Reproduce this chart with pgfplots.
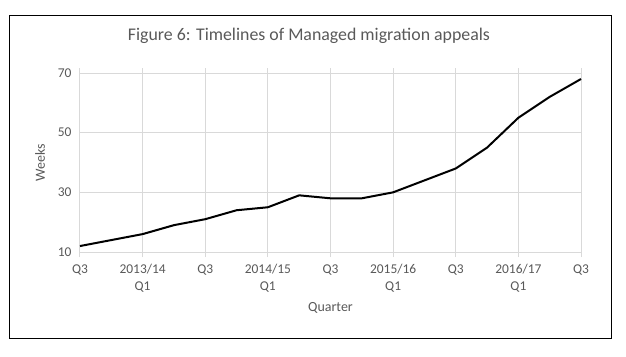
\documentclass[border=0pt]{standalone}
\usepackage{fontspec}
\setmainfont{Carlito}
\usepackage{pgfplots}
\pgfplotsset{compat=1.18}
\definecolor{txt}{HTML}{595959}
\definecolor{grd}{HTML}{D9D9D9}
\begin{document}
\begin{tikzpicture}[x=1bp,y=1bp]
\path[use as bounding box] (-80,-104) rectangle (546,252);
\draw[black, line width=1bp] (-70.4,-86) rectangle (531,237);
\begin{axis}[at={(0,0)}, anchor=south west, scale only axis,
  width=501bp, height=179bp,
  xmin=0, xmax=16, ymin=10, ymax=70,
  xtick={0,2,...,16},
  xticklabels={Q3,2013/14\\Q1,Q3,2014/15\\Q1,Q3,2015/16\\Q1,Q3,2016/17\\Q1,Q3},
  ytick={10,30,50,70},
  grid=major, major grid style={grd, line width=1bp},
  axis line style={draw=none},
  tick align=outside,
  x tick style={grd, line width=1bp}, major tick length=5bp,
  y tick style={draw=none},
  tick label style={font=\fontsize{13.5}{16.3}\selectfont, text=txt},
  x tick label style={align=center, yshift=-4bp},
  /pgf/number format/assume math mode=true,
  clip=false,
  title={Figure 6: Timelines of Managed migration appeals},
  title style={at={(axis description cs:0.457,1)}, anchor=center, yshift=31bp, font=\fontsize{17.9}{21}\selectfont, text=txt},
  xlabel={Quarter},
  xlabel style={at={(axis description cs:0.5,0)}, anchor=center, yshift=-56bp, font=\fontsize{14}{16}\selectfont, text=txt},
  ylabel={Weeks},
  ylabel style={at={(axis description cs:-0.0798,0.5)}, anchor=center, font=\fontsize{14}{16}\selectfont, text=txt},
]
\addplot[black, line width=2bp, line join=round] coordinates {
(0,12) (1,14) (2,16) (3,19) (4,21) (5,24) (6,25) (7,29) (8,28)
(9,28) (10,30) (11,34) (12,38) (13,45) (14,55) (15,62) (16,68)
};
\end{axis}
\end{tikzpicture}
\end{document}
